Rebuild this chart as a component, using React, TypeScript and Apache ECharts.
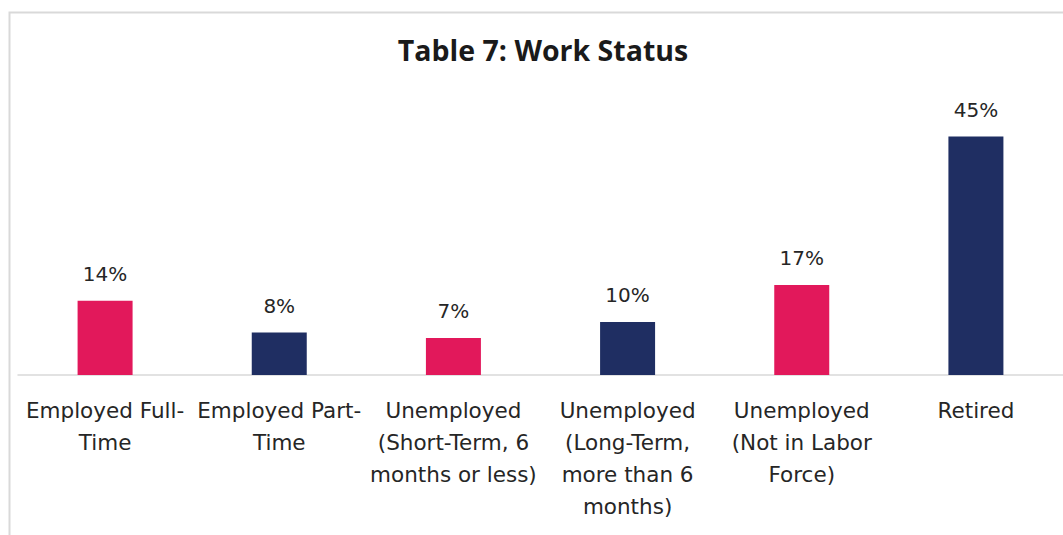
import React, { useEffect, useRef } from "react";
import * as echarts from "echarts";

const categories: string[] = [
  "Employed Full-\nTime",
  "Employed Part-\nTime",
  "Unemployed\n(Short-Term, 6\nmonths or less)",
  "Unemployed\n(Long-Term,\nmore than 6\nmonths)",
  "Unemployed\n(Not in Labor\nForce)",
  "Retired",
];
const values: number[] = [14, 8, 7, 10, 17, 45];
const PINK = "#E2185B";
const NAVY = "#1F2E62";
const barColors: string[] = [PINK, NAVY, PINK, NAVY, PINK, NAVY];

export default function App() {
  const ref = useRef<HTMLDivElement>(null);
  useEffect(() => {
    if (!ref.current) return;
    const chart = echarts.init(ref.current, null, { renderer: "svg" });
    const font = "'DejaVu Sans', Verdana, sans-serif";
    chart.setOption({
      animation: false,
      backgroundColor: "#ffffff",
      title: {
        text: "Table 7: Work Status",
        left: 538,
        textAlign: "center",
        top: 30,
        textStyle: {
          fontFamily: "'Open Sans', sans-serif",
          fontWeight: "bold",
          fontSize: 28.5,
          color: "#1a1a1a",
        },
      },
      graphic: [
        {
          type: "polyline",
          shape: { points: [[9.5, 600], [9.5, 12.5], [1100, 12.5]] },
          style: { stroke: "#D9D9D9", lineWidth: 2, fill: "none" },
          silent: true,
        },
      ],
      grid: { left: 18, right: -1, top: 110, bottom: 160, containLabel: false },
      xAxis: {
        type: "category",
        data: categories,
        axisLine: { show: true, lineStyle: { color: "#D9D9D9", width: 1.5 } },
        axisTick: { show: false },
        axisLabel: {
          interval: 0,
          margin: 19,
          fontFamily: font,
          fontSize: 21.5,
          lineHeight: 32,
          color: "#262626",
          align: "center",
        },
      },
      yAxis: {
        type: "value",
        min: 0,
        max: 50,
        show: false,
        splitLine: { show: false },
      },
      series: [
        {
          type: "bar",
          barWidth: 55,
          data: values.map((v, i) => ({ value: v, itemStyle: { color: barColors[i] } })),
          label: {
            show: true,
            position: "top",
            distance: 17,
            formatter: "{c}%",
            fontFamily: font,
            fontSize: 20,
            color: "#262626",
          },
        },
      ],
    });
    return () => chart.dispose();
  }, []);
  return (
    <div
      ref={ref}
      style={{ position: "fixed", left: 0, top: 0, width: 1063, height: 535 }}
    />
  );
}
